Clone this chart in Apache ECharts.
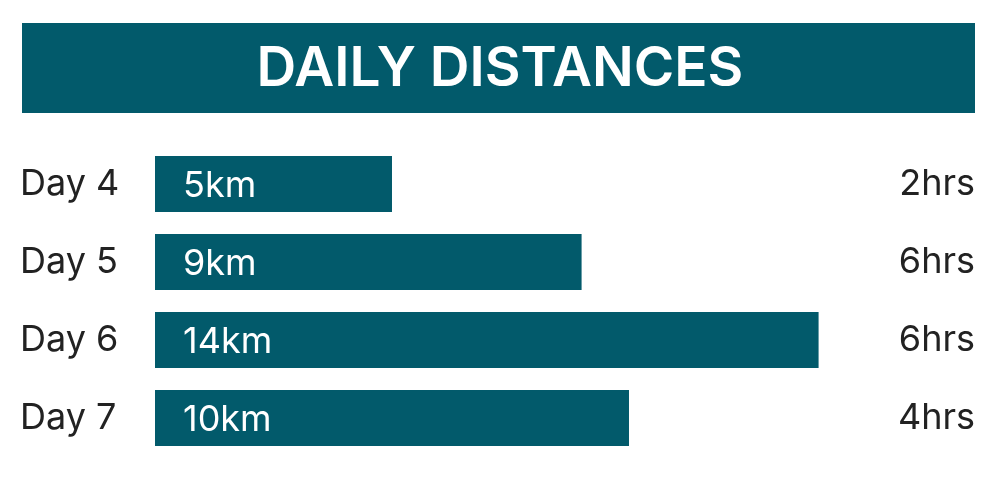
<!DOCTYPE html>
<html>
<head>
<meta charset="utf-8">
<script src="https://cdn.jsdelivr.net/npm/echarts@6/dist/echarts.min.js"></script>
<style>
  html, body { margin: 0; padding: 0; background: #fff; }
  #chart { width: 1000px; height: 504px; }
</style>
</head>
<body>
<div id="chart"></div>
<script>
const days = ["Day 4", "Day 5", "Day 6", "Day 7"];
const distances = [5, 9, 14, 10];
const hours = ["2hrs", "6hrs", "6hrs", "4hrs"];

const teal = "#025a6b";
const ink = "#222222";
const font = "Inter";

let myChart = echarts.init(document.getElementById("chart"));

let option = {
  backgroundColor: "#fff",
  animation: false,
  title: {
    text: "DAILY DISTANCES",
    left: "center",
    top: 37,
    textStyle: {
      color: "#fff",
      fontFamily: font,
      fontWeight: 600,
      fontSize: 55,
    },
  },
  graphic: [
    {
      type: "rect",
      left: 22,
      top: 23,
      z: -1,
      shape: { width: 953, height: 90 },
      style: { fill: teal },
    },
  ],
  grid: {
    left: 155,
    right: 25,
    top: 145,
    bottom: 47,
  },
  xAxis: {
    type: "value",
    min: 0,
    max: 17.3,
    show: false,
  },
  yAxis: [
    {
      type: "category",
      inverse: true,
      data: days,
      axisLine: { show: false },
      axisTick: { show: false },
      splitLine: { show: false },
      axisLabel: {
        color: ink,
        fontFamily: font,
        fontSize: 36,
        align: "left",
        margin: 135,
        padding: [4, 0, 0, 0],
      },
    },
    {
      type: "category",
      inverse: true,
      position: "right",
      data: hours,
      axisLine: { show: false },
      axisTick: { show: false },
      splitLine: { show: false },
      axisLabel: {
        color: ink,
        fontFamily: font,
        fontSize: 36,
        align: "right",
        margin: 0,
        padding: [4, 0, 0, 0],
      },
    },
  ],
  series: [
    {
      type: "bar",
      data: distances,
      barWidth: 56,
      itemStyle: { color: teal },
      label: {
        show: true,
        position: "insideLeft",
        distance: 28,
        offset: [0, 2],
        color: "#fff",
        fontFamily: font,
        fontSize: 36,
        formatter: (p) => p.value + "km",
      },
    },
  ],
};

myChart.setOption(option);
</script>
</body>
</html>
